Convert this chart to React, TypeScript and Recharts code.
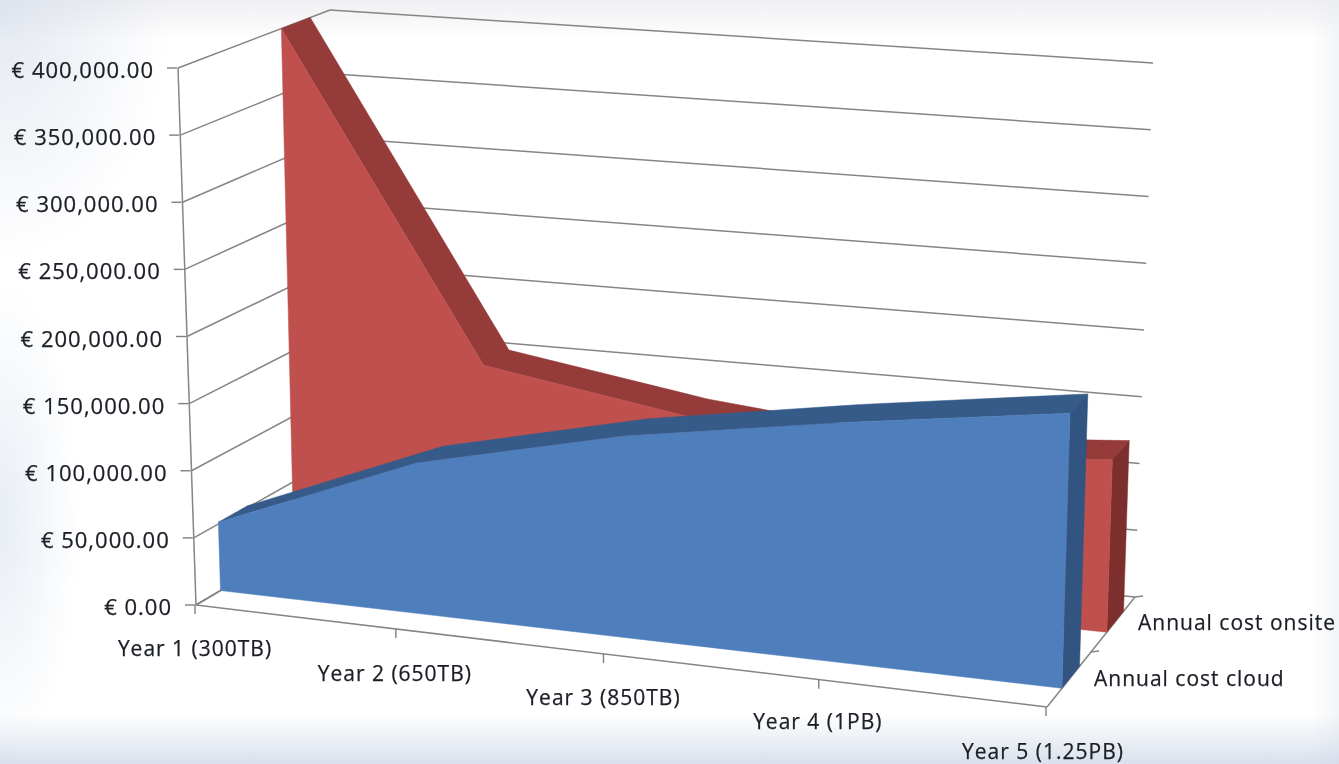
import React from "react";
import { ComposedChart, Area, XAxis, YAxis, ReferenceDot } from "recharts";

const W = 1339;
const H = 764;

// ---- data ----
const categories = ["Year 1 (300TB)", "Year 2 (650TB)", "Year 3 (850TB)", "Year 4 (1PB)", "Year 5 (1.25PB)"];
const annualCostCloud = [51400, 112000, 148000, 174000, 197500];
const annualCostOnsite = [400000, 154000, 130000, 115000, 127000];
const valueTicks = [0, 50000, 100000, 150000, 200000, 250000, 300000, 350000, 400000];
const MAX_VALUE = 400000;

// ---- the 3D view: corners of the plot box and where things sit inside it ----
type P = [number, number];
const FLB: P = [196, 605];
const FRB: P = [1047, 707];
const BLB: P = [340, 520];
const BRB: P = [1135, 597];
const FLT: P = [178, 68];
const FRT: P = [1063, 145];
const BLT: P = [330, 10];
const BRT: P = [1153, 63];
const catPos = [0, 0.236, 0.48, 0.733, 1];
const cloudDepth = [0.17, 0.37];
const onsiteDepth = [0.68, 0.87];

const lerp = (a: number, b: number, t: number) => a + (b - a) * t;
const lerpP = (a: P, b: P, t: number): P => [lerp(a[0], b[0], t), lerp(a[1], b[1], t)];
function project(u: number, value: number, d: number): P {
  const v = value / MAX_VALUE;
  const bottom = lerpP(lerpP(FLB, FRB, u), lerpP(BLB, BRB, u), d);
  const top = lerpP(lerpP(FLT, FRT, u), lerpP(BLT, BRT, u), d);
  return lerpP(bottom, top, v);
}

// turn a polygon that is monotone in x into rows for a range Area
function toBand(poly: P[]) {
  let lo = 0;
  let hi = 0;
  poly.forEach((p, i) => {
    if (p[0] < poly[lo][0]) lo = i;
    if (p[0] > poly[hi][0]) hi = i;
  });
  const n = poly.length;
  const chainA: P[] = [];
  for (let i = lo; ; i = (i + 1) % n) {
    chainA.push(poly[i]);
    if (i === hi) break;
  }
  const chainB: P[] = [];
  for (let i = lo; ; i = (i - 1 + n) % n) {
    chainB.push(poly[i]);
    if (i === hi) break;
  }
  const at = (chain: P[], x: number) => {
    for (let i = 0; i < chain.length - 1; i++) {
      const [x0, y0] = chain[i];
      const [x1, y1] = chain[i + 1];
      if (x >= x0 && x <= x1) return x1 === x0 ? y0 : lerp(y0, y1, (x - x0) / (x1 - x0));
    }
    return chain[chain.length - 1][1];
  };
  const xs = Array.from(new Set(poly.map((p) => p[0]))).sort((a, b) => a - b);
  return xs.map((px) => ({ px, band: [at(chainA, px), at(chainB, px)] }));
}

function faces(values: number[], [d0, d1]: number[]) {
  const front = values.map((v, i) => project(catPos[i], v, d0));
  const back = values.map((v, i) => project(catPos[i], v, d1));
  const last = values.length - 1;
  return {
    front: toBand([project(0, 0, d0), ...front, project(1, 0, d0)]),
    top: toBand([...front, ...back.slice().reverse()]),
    side: toBand([front[last], back[last], project(1, 0, d1), project(1, 0, d0)]),
  };
}

const cloud = faces(annualCostCloud, cloudDepth);
const onsite = faces(annualCostOnsite, onsiteDepth);

const seg = (a: P, b: P) => [
  { px: a[0], py: a[1] },
  { px: b[0], py: b[1] },
];

const grid = [
  ...valueTicks.map((v) => seg(project(0, v, 0), project(0, v, 1))),
  ...valueTicks.map((v) => seg(project(0, v, 1), project(1, v, 1))),
  seg(FLB, FLT),
  seg(FLB, FRB),
  seg(FRB, BRB),
  seg(FLB, BLB),
];
const depthTicks = [0.5, 1].map((d) => {
  const p = project(1, 0, d);
  return seg(p, [p[0] + 8, p[1] - 1]);
});

// rows that bind the two visible axes to a graphical item
const axisRows = catPos.map((u, i) => ({ u, cloud: annualCostCloud[i] }));

const FONT = "'Open Sans', sans-serif";
const TEXT = "#1b1e25";
const FS = 21;
const LS = 1;
const textStyle = { fontFamily: FONT, fill: TEXT, stroke: TEXT, strokeWidth: 0.25 };
const euro = (v: number) => "€ " + v.toLocaleString("en-US", { minimumFractionDigits: 2, maximumFractionDigits: 2 });

// value axis ticks follow the leaning front-left edge
function ValueTick({ y, payload }: any) {
  const [ax] = project(0, payload.value, 0);
  return (
    <g>
      <line x1={ax - 10} x2={ax} y1={y} y2={y} stroke="#7f7f7f" strokeWidth={1.4} />
      <text x={ax - 23} y={y + 10} textAnchor="end" fontSize={22} letterSpacing={1} {...textStyle}>
        {euro(payload.value)}
      </text>
    </g>
  );
}

const labelShiftX = [0, -1, 0, -1, -3];
const labelY = [656, 681, 705, 729, 759];
function CategoryTick({ payload }: any) {
  const i = catPos.indexOf(payload.value);
  const [ax, ay] = project(payload.value, 0, 0);
  return (
    <g>
      <line x1={ax} x2={ax} y1={ay} y2={ay + 9} stroke="#7f7f7f" strokeWidth={1.4} />
      <text x={ax + labelShiftX[i]} y={labelY[i]} textAnchor="middle" fontSize={FS} letterSpacing={LS} {...textStyle}>
        {categories[i]}
      </text>
    </g>
  );
}

const DepthLabel = (text: string) => ({ viewBox }: any) => (
  <text x={viewBox.x} y={viewBox.y} fontSize={FS} letterSpacing={LS} {...textStyle}>
    {text}
  </text>
);

const RED = { front: "#C0504D", top: "#953B3A", side: "#7C2F2D" };
const BLUE = { front: "#4E7FBC", top: "#365B88", side: "#315480" };

const bg = [
  "radial-gradient(ellipse 170px 260px at 0px 0px, rgba(212,219,232,0.65) 0px, rgba(255,255,255,0) 100%)",
  "linear-gradient(to bottom, rgba(232,233,237,0.7) 0px, rgba(255,255,255,0) 40px)",
  "radial-gradient(ellipse 80px 240px at 0px 520px, rgba(222,230,240,0.7) 0px, rgba(255,255,255,0) 100%)",
  "linear-gradient(to top, rgba(205,214,230,0.75) 0px, rgba(255,255,255,0) 50px)",
  "linear-gradient(to left, rgba(232,235,240,0.5) 0px, rgba(255,255,255,0) 30px)",
  "#ffffff",
].join(",");

export default function App() {
  return (
    <div style={{ position: "fixed", left: 0, top: 0, width: W, height: H, overflow: "hidden", background: bg }}>
      <div style={{ filter: "blur(0.5px)", marginLeft: -1 }}>
        <ComposedChart width={W + 1} height={H + 1} margin={{ top: 0, right: 0, bottom: 0, left: 0 }}>
          <XAxis xAxisId="px" dataKey="px" type="number" domain={[0, W]} hide allowDataOverflow />
          <YAxis yAxisId="py" type="number" domain={[0, H]} reversed hide allowDataOverflow />
          <XAxis
            xAxisId="cat"
            dataKey="u"
            type="number"
            height={1}
            domain={[(0 - FLB[0]) / (FRB[0] - FLB[0]), (W - FLB[0]) / (FRB[0] - FLB[0])]}
            ticks={catPos}
            interval={0}
            axisLine={false}
            tickLine={false}
            tick={CategoryTick}
            allowDataOverflow
          />
          <YAxis
            yAxisId="val"
            type="number"
            width={1}
            domain={[((FLB[1] - H) / (FLB[1] - FLT[1])) * MAX_VALUE, (FLB[1] / (FLB[1] - FLT[1])) * MAX_VALUE]}
            ticks={valueTicks}
            interval={0}
            axisLine={false}
            tickLine={false}
            tick={ValueTick}
            allowDataOverflow
          />
          <Area
            data={axisRows}
            xAxisId="cat"
            yAxisId="val"
            dataKey="cloud"
            fill="none"
            stroke="none"
            dot={false}
            activeDot={false}
            legendType="none"
            isAnimationActive={false}
          />
          {[...grid, ...depthTicks].map((d, i) => (
            <Area
              key={i}
              data={d}
              xAxisId="px"
              yAxisId="py"
              dataKey="py"
              fill="none"
              stroke="#858585"
              strokeWidth={1.5}
              dot={false}
              activeDot={false}
              legendType="none"
              isAnimationActive={false}
            />
          ))}
          {(["top", "side", "front"] as const).map((f) => (
            <Area
              key={"on" + f}
              name="Annual cost onsite"
              data={onsite[f]}
              xAxisId="px"
              yAxisId="py"
              dataKey="band"
              fill={RED[f]}
              fillOpacity={1}
              stroke={RED[f]}
              strokeWidth={0.5}
              dot={false}
              activeDot={false}
              isAnimationActive={false}
            />
          ))}
          {(["top", "side", "front"] as const).map((f) => (
            <Area
              key={"cl" + f}
              name="Annual cost cloud"
              data={cloud[f]}
              xAxisId="px"
              yAxisId="py"
              dataKey="band"
              fill={BLUE[f]}
              fillOpacity={1}
              stroke={BLUE[f]}
              strokeWidth={0.5}
              dot={false}
              activeDot={false}
              isAnimationActive={false}
            />
          ))}
          <ReferenceDot xAxisId="px" yAxisId="py" x={1138} y={630} r={0} fill="none" stroke="none" label={DepthLabel("Annual cost onsite")} />
          <ReferenceDot xAxisId="px" yAxisId="py" x={1094} y={686} r={0} fill="none" stroke="none" label={DepthLabel("Annual cost cloud")} />
        </ComposedChart>
      </div>
    </div>
  );
}
